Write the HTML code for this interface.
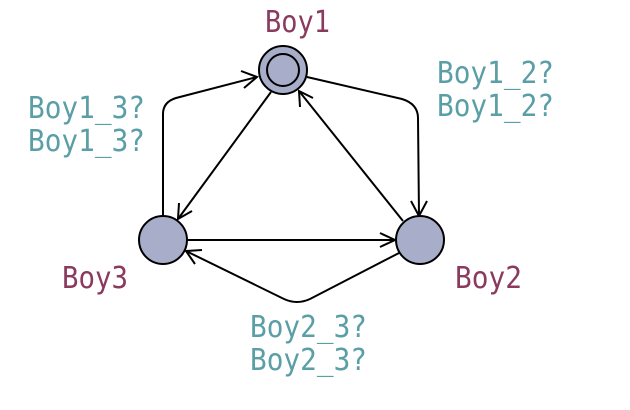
<!DOCTYPE html>
<html><head><meta charset="utf-8"><style>
html,body{margin:0;padding:0;background:#fff;}
svg{display:block;}
text{font-family:"DejaVu Sans Mono","Liberation Mono",monospace;font-size:30px;}
.n{fill:#8a3a5e;}
.l{fill:#5a9ea6;}
</style></head><body>
<svg width="630" height="410" viewBox="0 0 630 410" xmlns="http://www.w3.org/2000/svg">
<g fill="none" stroke="#000" stroke-width="2">
<path d="M163 216 L163 114 Q163 102 176 98 L257 77"/>
<path d="M241 71 L257 77 L244 88"/>
<path d="M307 77 L402 99 Q418 104 418 118 L419 216"/>
<path d="M411 201 L419 216 L427 201"/>
<path d="M271 92 L178 219"/>
<path d="M179 203 L178 219 L192 211"/>
<path d="M403 221 L299 91"/>
<path d="M300 107 L299 91 L313 98"/>
<path d="M187 240 L395 240"/>
<path d="M380 233 L395 240 L380 247"/>
<path d="M399 253 L310 299 Q297 305 284 299 L186 251"/>
<path d="M195 264 L186 251 L202 250"/>
</g>
<g stroke="#000" stroke-width="2" fill="#a8aec9">
<circle cx="283" cy="70" r="24"/>
<circle cx="283" cy="70" r="16"/>
<circle cx="163" cy="240" r="24"/>
<circle cx="420" cy="240" r="24"/>
</g>
<text class="n" x="265" y="32" textLength="65" lengthAdjust="spacingAndGlyphs">Boy1</text>
<text class="n" x="62" y="288" textLength="66" lengthAdjust="spacingAndGlyphs">Boy3</text>
<text class="n" x="455" y="288" textLength="67" lengthAdjust="spacingAndGlyphs">Boy2</text>
<text class="l" x="28" y="118" textLength="117" lengthAdjust="spacingAndGlyphs">Boy1_3?</text>
<text class="l" x="28" y="151" textLength="117" lengthAdjust="spacingAndGlyphs">Boy1_3?</text>
<text class="l" x="437" y="83" textLength="117" lengthAdjust="spacingAndGlyphs">Boy1_2?</text>
<text class="l" x="437" y="116" textLength="117" lengthAdjust="spacingAndGlyphs">Boy1_2?</text>
<text class="l" x="250" y="337" textLength="117" lengthAdjust="spacingAndGlyphs">Boy2_3?</text>
<text class="l" x="250" y="370" textLength="117" lengthAdjust="spacingAndGlyphs">Boy2_3?</text>
</svg>
</body></html>
